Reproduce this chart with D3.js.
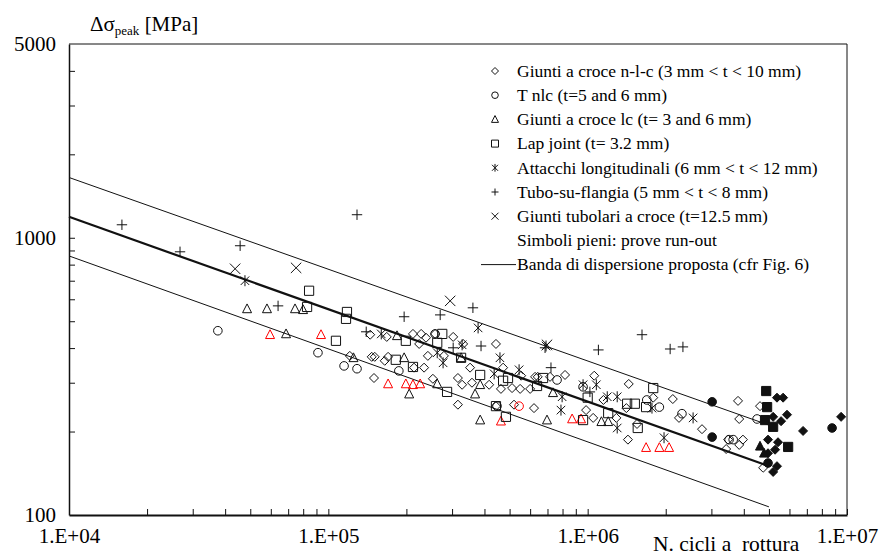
<!DOCTYPE html>
<html><head><meta charset="utf-8">
<script src="https://cdn.jsdelivr.net/npm/d3@7"></script>
<style>
html,body{margin:0;padding:0;background:#fff;}
svg{display:block;font-family:"Liberation Serif","Times New Roman",serif;}
</style></head>
<body>
<svg id="chart" width="884" height="556"></svg>
<script>
// ---- data: [N cycles, stress range MPa] ----
const giuntiCroceNlc = [[1.45e5,447],[1.68e5,439],[2.12e5,450],[2.28e5,450],[2.38e5,436],[2.24e5,414],[1.21e5,375],[1.47e5,372],[1.51e5,372],[1.70e5,372],[1.65e5,360],[2.14e5,340],[2.34e5,340],[2.42e5,375],[1.50e5,312],[2.58e5,450],[3.03e5,439],[3.31e5,414],[4.43e5,414],[2.79e5,375],[3.52e5,340],[2.53e5,310],[3.16e5,312],[3.28e5,295],[3.58e5,300],[4.17e5,295],[4.72e5,340],[4.63e5,285],[5.11e5,287],[5.49e5,285],[5.54e5,318],[6.27e5,315],[6.42e5,315],[6.00e5,285],[3.16e5,250],[5.20e5,250],[6.21e5,243],[4.43e5,247],[8.18e5,320],[1.06e6,318],[1.44e6,297],[9.86e5,239],[1.05e6,224],[1.15e6,260],[1.29e6,224],[1.41e6,243],[1.55e6,213],[1.79e6,265],[2.13e6,262],[2.25e6,224],[2.76e6,204],[1.43e6,187],[7.16e5,315],[3.80e6,258],[4.62e6,247],[3.84e6,222],[3.48e6,187],[3.84e6,179],[3.97e6,187],[3.42e6,173],[4.75e6,148]];
const giuntiCroceNlcRunout = [[5.37e6,265],[5.67e6,265],[5.19e6,226],[5.87e6,230],[5.57e6,218],[4.96e6,187],[5.42e6,183],[5.28e6,172],[4.96e6,167],[5.37e6,150],[5.19e6,143],[6.77e6,201],[9.49e6,226]];
const tNlc = [[3.75e4,462],[9.12e4,385],[1.15e5,345],[1.29e5,337],[1.87e5,331],[2.58e5,450],[4.47e5,247],[7.62e5,307],[9.60e5,290],[1.69e6,260],[1.89e6,245],[2.31e6,232],[4.50e6,222],[3.64e6,187],[3.51e6,187]];
const tNlcRed = [[5.44e5,247]];
const tNlcRunout = [[3.02e6,256],[3.02e6,191],[8.76e6,206],[4.96e6,154]];
const giuntiCroceLc = [[4.86e4,554],[5.80e4,554],[7.44e4,554],[7.99e4,550],[6.87e4,450],[1.25e5,369],[1.84e5,443],[1.96e5,369],[2.05e5,273],[2.63e5,297],[3.25e5,369],[3.85e5,295],[3.68e5,273],[3.85e5,220],[6.97e5,220],[7.35e5,276],[1.13e6,217],[1.20e6,217]];
const giuntiCroceLcRed = [[5.96e4,447],[9.37e4,447],[1.70e5,297],[1.99e5,297],[2.12e5,295],[2.26e5,297],[4.63e5,218],[8.71e5,222],[9.43e5,222],[1.68e6,175],[1.89e6,175],[2.06e6,175]];
const giuntiCroceLcRunout = [[4.62e6,177],[4.79e6,167]];
const lapJoint = [[8.43e4,644],[8.28e4,563],[1.18e5,540],[1.17e5,510],[1.07e5,425],[1.99e5,425],[2.75e5,450],[2.63e5,418],[1.82e5,363],[2.12e5,342],[3.25e5,369],[3.85e5,320],[2.87e5,278],[4.43e5,247],[4.84e5,226],[4.72e5,305],[4.93e5,312],[6.38e5,292],[6.73e5,312],[1.00e6,265],[9.60e5,220],[1.20e6,233],[1.42e6,252],[1.52e6,252],[1.68e6,245],[1.79e6,287],[1.56e6,206]];
const lapJointRunout = [[4.88e6,280],[4.92e6,245],[4.83e6,220],[5.19e6,208],[5.93e6,176]];
const attacchiLong = [[4.77e4,700],[1.60e5,450],[3.78e5,473],[3.28e5,411],[2.63e5,385],[2.77e5,354],[4.59e5,369],[4.36e5,323],[5.44e5,334],[6.91e5,407],[7.97e5,267],[7.89e5,239],[9.60e5,295],[1.08e6,295],[1.19e6,267],[1.30e6,267],[1.30e6,206],[1.77e6,243],[2.55e6,224],[1.97e6,190]];
const tuboFlangia = [[1.60e4,1114],[2.68e4,890],[4.57e4,936],[6.40e4,568],[1.29e5,1211],[1.40e5,458],[1.96e5,519],[2.70e5,527],[3.61e5,559],[3.03e5,401],[3.88e5,407],[6.85e5,401],[7.22e5,340],[1.10e6,394],[1.62e6,447],[2.08e6,397],[2.33e6,404],[1.02e6,278]];
const giuntiTubolari = [[4.37e4,773],[7.51e4,779],[2.95e5,592],[6.97e5,411]];

const bandN = [1e4, 5e6];
const bandMean = [1190, 150];
const bandUpper = [1650, 211];
const bandLower = [860, 107];

const xMajor = [1e4, 1e5, 1e6, 1e7];
const xMajorLabels = ["1.E+04", "1.E+05", "1.E+06", "1.E+07"];
const yMajor = [100, 1000, 5000];
const yMajorLabels = ["100", "1000", "5000"];

const legendItems = [
  {shape: "diamond", text: "Giunti a croce n-l-c (3 mm < t < 10 mm)"},
  {shape: "circle", text: "T nlc (t=5 and 6 mm)"},
  {shape: "triangle", text: "Giunti a croce lc (t= 3 and 6 mm)"},
  {shape: "square", text: "Lap joint (t= 3.2 mm)"},
  {shape: "asterisk", text: "Attacchi longitudinali (6 mm < t < 12 mm)"},
  {shape: "plus", text: "Tubo-su-flangia (5 mm < t < 8 mm)"},
  {shape: "times", text: "Giunti tubolari a croce (t=12.5 mm)"},
  {shape: null, text: "Simboli pieni: prove run-out"},
  {shape: "line", text: "Banda di dispersione proposta (cfr Fig. 6)"}
];

// ---- layout ----
const svg = d3.select("#chart");
const L = 69, R = 847, T = 44, B = 515;
const x = d3.scaleLog().domain([1e4, 1e7]).range([L, R]);
const y = d3.scaleLog().domain([100, 5000]).range([B, T]);
const ink = "#111";

// frame
svg.append("line").attr("x1", L).attr("x2", R).attr("y1", T).attr("y2", T).attr("stroke", ink).attr("stroke-width", 1);
svg.append("line").attr("x1", R).attr("x2", R).attr("y1", T).attr("y2", B).attr("stroke", ink).attr("stroke-width", 1);

// x axis
const xTicks = [];
for (let d = 1e4; d < 1e7; d *= 10) for (let k = 1; k <= 9; k++) xTicks.push(d * k);
xTicks.push(1e7);
const xAxis = d3.axisBottom(x).tickValues(xTicks).tickSizeInner(-6).tickSizeOuter(0).tickPadding(13)
  .tickFormat(d => { const i = xMajor.findIndex(m => Math.abs(m - d) / m < 1e-9); return i >= 0 ? xMajorLabels[i] : ""; });
const gx = svg.append("g").attr("transform", `translate(0,${B})`).call(xAxis);
gx.select(".domain").attr("stroke", ink).attr("stroke-width", 2);
gx.selectAll(".tick line").attr("stroke", ink).attr("stroke-width", 1);
gx.selectAll("text").attr("font-size", 21).attr("fill", "#000").attr("font-family", "Liberation Serif, serif");

// y axis
const yTicks = [100,200,300,400,500,600,700,800,900,1000,2000,3000,4000,5000];
const yAxis = d3.axisLeft(y).tickValues(yTicks).tickSizeInner(-6).tickSizeOuter(0).tickPadding(13)
  .tickFormat(d => { const i = yMajor.indexOf(d); return i >= 0 ? yMajorLabels[i] : ""; });
const gy = svg.append("g").attr("transform", `translate(${L},0)`).call(yAxis);
gy.select(".domain").attr("stroke", ink).attr("stroke-width", 1.5);
gy.selectAll(".tick line").attr("stroke", ink).attr("stroke-width", 1)
  .filter(d => d === 100 || d === 5000).remove();
gy.selectAll("text").attr("font-size", 21).attr("fill", "#000").attr("font-family", "Liberation Serif, serif");

// band lines
const line = d3.line().x(d => x(d[0])).y(d => y(d[1]));
const mk = arr => bandN.map((n, i) => [n, arr[i]]);
svg.append("path").attr("d", line(mk(bandUpper))).attr("fill", "none").attr("stroke", ink).attr("stroke-width", 1);
svg.append("path").attr("d", line(mk(bandLower))).attr("fill", "none").attr("stroke", ink).attr("stroke-width", 1);
svg.append("path").attr("d", line(mk(bandMean))).attr("fill", "none").attr("stroke", ink).attr("stroke-width", 2.2);

// symbols
function symPath(shape, cx, cy, s) {
  switch (shape) {
    case "diamond": return `M${cx},${cy - s}L${cx + s},${cy}L${cx},${cy + s}L${cx - s},${cy}Z`;
    case "triangle": return `M${cx},${cy - s * 1.1}L${cx + s},${cy + s * 0.85}L${cx - s},${cy + s * 0.85}Z`;
    case "square": return `M${cx - s},${cy - s}h${2 * s}v${2 * s}h${-2 * s}Z`;
    case "asterisk": { const a = s * 0.85; return `M${cx - a},${cy - a}L${cx + a},${cy + a}M${cx + a},${cy - a}L${cx - a},${cy + a}M${cx},${cy - s * 1.1}L${cx},${cy + s * 1.1}`; }
    case "plus": return `M${cx - s},${cy}L${cx + s},${cy}M${cx},${cy - s}L${cx},${cy + s}`;
    case "times": return `M${cx - s},${cy - s}L${cx + s},${cy + s}M${cx + s},${cy - s}L${cx - s},${cy + s}`;
  }
}
const sizes = {diamond: 4.5, triangle: 4.5, square: 4.6, asterisk: 5, plus: 5.2, times: 5.2};
function drawSeries(data, shape, color, filled) {
  const g = svg.append("g");
  if (shape === "circle") {
    g.selectAll("circle").data(data).join("circle")
      .attr("cx", d => x(d[0])).attr("cy", d => y(d[1])).attr("r", 4.3)
      .attr("fill", filled ? color : "none").attr("stroke", color).attr("stroke-width", 1);
  } else {
    g.selectAll("path").data(data).join("path")
      .attr("d", d => symPath(shape, x(d[0]), y(d[1]), sizes[shape]))
      .attr("fill", filled ? color : "none").attr("stroke", color).attr("stroke-width", 1);
  }
}
drawSeries(giuntiCroceNlc, "diamond", ink, false);
drawSeries(tNlc, "circle", ink, false);
drawSeries(tNlcRed, "circle", "#ff0000", false);
drawSeries(giuntiCroceLc, "triangle", ink, false);
drawSeries(giuntiCroceLcRed, "triangle", "#ff0000", false);
drawSeries(lapJoint, "square", ink, false);
drawSeries(attacchiLong, "asterisk", ink, false);
drawSeries(tuboFlangia, "plus", ink, false);
drawSeries(giuntiTubolari, "times", ink, false);
drawSeries(giuntiCroceNlcRunout, "diamond", ink, true);
drawSeries(tNlcRunout, "circle", ink, true);
drawSeries(giuntiCroceLcRunout, "triangle", ink, true);
drawSeries(lapJointRunout, "square", ink, true);

// legend
const lg = svg.append("g");
legendItems.forEach((it, i) => {
  const cy = 71 + i * 24.2;
  if (it.shape === "circle") lg.append("circle").attr("cx", 495).attr("cy", cy).attr("r", 3.3).attr("fill", "none").attr("stroke", ink);
  else if (it.shape === "line") lg.append("line").attr("x1", 481).attr("x2", 516).attr("y1", cy).attr("y2", cy).attr("stroke", ink).attr("stroke-width", 1);
  else if (it.shape) lg.append("path").attr("d", symPath(it.shape, 495, cy, 3.5)).attr("fill", "none").attr("stroke", ink);
  lg.append("text").attr("x", 517).attr("y", cy).attr("dy", "0.33em").attr("font-size", 17.5).attr("fill", "#000").text(it.text);
});

// titles
const yt = svg.append("text").attr("x", 90).attr("y", 31).attr("font-size", 21).attr("fill", "#000");
yt.append("tspan").text("Δσ");
yt.append("tspan").attr("font-size", 13).attr("dy", 4).text("peak");
yt.append("tspan").attr("dy", -4).text(" [MPa]");
svg.append("text").attr("x", 653).attr("y", 551).attr("font-size", 21.5).attr("fill", "#000")
  .attr("xml:space", "preserve").style("white-space", "pre").text("N. cicli a  rottura");
</script>
</body></html>
